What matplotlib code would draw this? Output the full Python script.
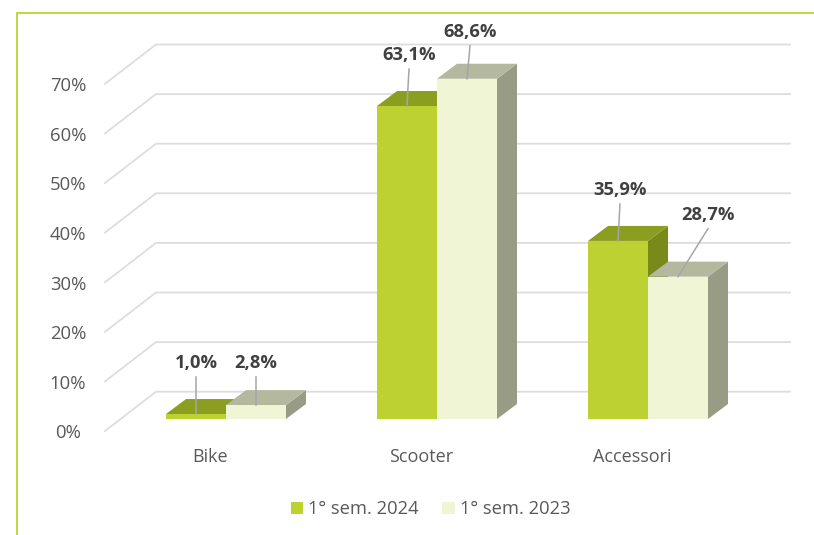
import matplotlib
matplotlib.use('Agg')
import matplotlib.pyplot as plt
from matplotlib.patches import Polygon, Patch

categories = ['Bike', 'Scooter', 'Accessori']
sem_2024 = [1.0, 63.1, 35.9]
sem_2023 = [2.8, 68.6, 28.7]
y_ticks = [0, 10, 20, 30, 40, 50, 60, 70]
series_names = ['1° sem. 2024', '1° sem. 2023']

plt.rcParams['font.family'] = ['Open Sans', 'DejaVu Sans']

# one category step is 211 px, one percent is 4.96 px
px_x = 211
px_y = 4.96
bar_w = 60 / px_x
depth_x = 20 / px_x
depth_y = 15 / px_y

fig = plt.figure(figsize=(8.14, 5.35), dpi=100)
ax = fig.add_axes([0, 0, 1, 1])
ax.set_xlim(-226 / px_x, (814 - 226) / px_x)
ax.set_ylim(-116 / px_y, 419 / px_y)
ax.axis('off')

# outer frame, top and left only
frame = '#BDD230'
ax.plot([17 / 814, 17 / 814, 1], [0, 1 - 13 / 535, 1 - 13 / 535], transform=ax.transAxes,
        color=frame, lw=1.3, solid_joinstyle='miter', clip_on=False)

# grid: slanted part on the side wall, then the back wall
x_front = (105 - 226) / px_x
x_back = (156 - 226) / px_x
x_end = (790 - 226) / px_x
y_front = (419 - 431) / px_y
y_back = (419 - 391.7) / px_y
for t in y_ticks:
    ax.plot([x_front, x_back, x_end], [t + y_front, t + y_back, t + y_back],
            color='#DDDDDD', lw=1.3, solid_joinstyle='miter')
    ax.text((68 - 226) / px_x, t + y_front - 2.5 / px_y, '%d%%' % t, ha='center', va='center',
            fontsize=13.3, color='#595959')


def bar3d(x0, h, front, top, side):
    x1 = x0 + bar_w
    ax.add_patch(Polygon([(x1, 0), (x1 + depth_x, depth_y), (x1 + depth_x, h + depth_y), (x1, h)],
                         fc=side, ec='none', zorder=3))
    ax.add_patch(Polygon([(x0, h), (x0 + depth_x, h + depth_y), (x1 + depth_x, h + depth_y), (x1, h)],
                         fc=top, ec='none', zorder=3))
    ax.add_patch(Polygon([(x0, 0), (x1, 0), (x1, h), (x0, h)], fc=front, ec='none', zorder=3))


for i in range(len(categories)):
    bar3d(i - bar_w, sem_2024[i], '#BDD230', '#8C9E1F', '#7A8A18')
    bar3d(i, sem_2023[i], '#F0F5D5', '#B4B89F', '#989C85')
    ax.text(i - 15.5 / px_x, -38 / px_y, categories[i], ha='center', va='center', fontsize=13,
            color='#595959')

# leader lines, (dx, dy) in px from the middle of the bar front
leaders_2024 = [(0, 37), (2, 37), (2, 37)]
leaders_2023 = [(0, 28), (3, 33), (30, 48)]


def value_label(x, h, off):
    lx = x + off[0] / px_x
    ly = h + off[1] / px_y
    ax.plot([x, lx], [h, ly], color='#A6A6A6', lw=1.1, zorder=4)
    ax.text(lx, ly + 14 / px_y, ('%.1f%%' % h).replace('.', ','), ha='center', va='center',
            fontsize=13.2, fontweight='bold', color='#404040', zorder=5)


for i in range(len(categories)):
    value_label(i - bar_w / 2, sem_2024[i], leaders_2024[i])
    value_label(i + bar_w / 2, sem_2023[i], leaders_2023[i])

handles = [Patch(fc='#BDD230', ec='none'), Patch(fc='#F0F5D5', ec='none')]
fig.legend(handles, series_names, ncol=2, loc='center', bbox_to_anchor=(430.5 / 814, 1 - 509.5 / 535),
           frameon=False, fontsize=13.2, labelcolor='#595959', handlelength=0.67, handleheight=0.67,
           handletextpad=0.28, columnspacing=1.3)

fig.savefig('out.png', dpi=100)
